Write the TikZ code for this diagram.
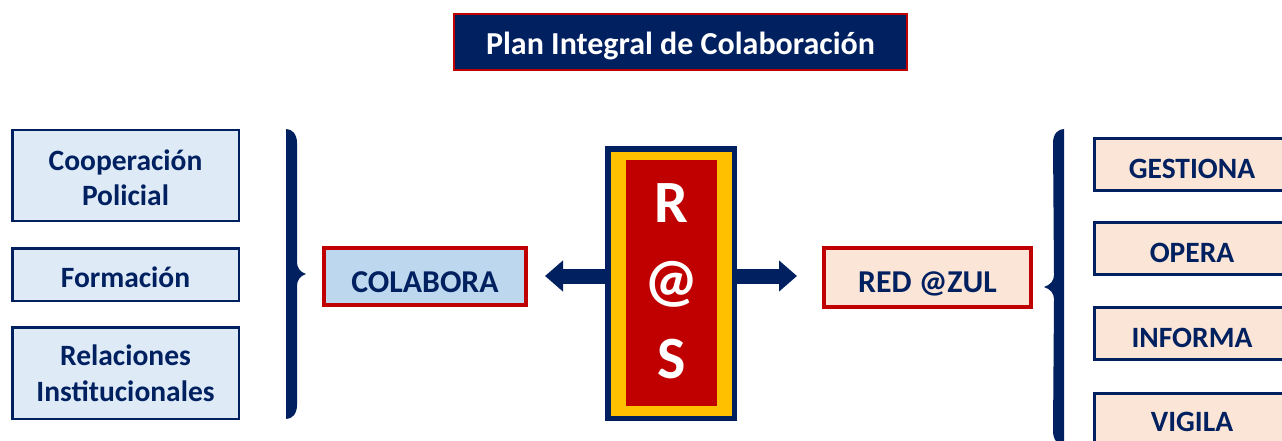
\documentclass[tikz,border=0pt]{standalone}
\usepackage{fontspec}
\setmainfont{Carlito}
\usetikzlibrary{arrows.meta}
\definecolor{cNavy}{HTML}{002060}
\definecolor{cRed}{HTML}{C00000}
\definecolor{cGold}{HTML}{FFC000}
\definecolor{cLBlue}{HTML}{DEEBF7}
\definecolor{cMBlue}{HTML}{BDD7EE}
\definecolor{cPeach}{HTML}{FBE5D6}
\newcommand{\twolines}[3]{\parbox[t]{220pt}{\centering\fontsize{29.5}{#3}\selectfont\bfseries #1\\#2}}
\begin{document}
\begin{tikzpicture}[x=1pt,y=-1pt,
  txt/.style={font=\fontsize{29.5}{35}\selectfont\bfseries, align=center, inner sep=0pt},
  lbox/.style={txt, draw=cNavy, line width=2.5pt, fill=cLBlue, text=cNavy, minimum width=226.5pt},
  rbox/.style={txt, draw=cNavy, line width=3pt, fill=cPeach, text=cNavy, minimum width=196pt, minimum height=52pt, text height=27.6pt, text depth=0pt},
  midbox/.style={txt, font=\fontsize{31.8}{38}\selectfont\bfseries, draw=cRed, line width=4pt, text=cNavy},
  brace/.style={fill=cNavy},
  bigarrow/.style={draw=cNavy, line width=15pt, -{Triangle[length=18pt,width=30pt]}}
]
\useasboundingbox (0,0) rectangle (1282,441);
\clip (0,0) rectangle (1282,441);

% title
\node[txt, font=\fontsize{32}{38}\selectfont\bfseries, draw=cRed, line width=2pt, fill=cNavy, text=white, minimum width=453pt, minimum height=56pt, text height=26pt, text depth=0pt] (title) at (680.5,42) {Plan Integral de Colaboración};

% left boxes
\node[lbox, minimum height=90.5pt, text height=0pt, text depth=9.6pt] (coop) at (125.5,175.5) {\twolines{Cooperación}{Policial}{35}};
\node[lbox, minimum height=52.5pt, text height=25pt, text depth=0pt] (form) at (125.5,274.5) {Formación};
\node[lbox, minimum height=91.5pt, text height=0pt, text depth=14.6pt] (rel) at (125.5,373) {\twolines{Relaciones}{Institucionales}{36}};

% left brace
\path[brace] (286,129) .. controls (292,129) and (297,134) .. (297,143) -- (297,262)
  .. controls (297,268) and (300,272) .. (306,274)
  .. controls (300,276) and (297,280) .. (297,286) -- (297,405)
  .. controls (297,414) and (292,419) .. (286,419) -- cycle;

% middle boxes
\node[midbox, fill=cMBlue, minimum width=202pt, minimum height=57pt, text height=32.4pt, text depth=0pt] (colabora) at (425,276.5) {COLABORA};
\node[midbox, fill=cPeach, minimum width=207pt, minimum height=59pt, text height=30.4pt, text depth=0pt] (redazul) at (927.5,277.5) {RED @ZUL};

% R@S block
\node[draw=cNavy, line width=5.5pt, fill=cGold, minimum width=126.5pt, minimum height=269.5pt, inner sep=0pt] (rs) at (671,283.5) {};
\node[fill=cRed, minimum width=91pt, minimum height=246pt, inner sep=0pt, text=white,
      font=\fontsize{60}{78}\selectfont\bfseries, align=center, text depth=4pt] (rsin) at (671.5,283) {R\\@\\S};

% arrows
\coordinate (lt) at (545,276);
\coordinate (rt) at (797,276);
\draw[bigarrow] (rs.west |- lt) -- (lt);
\draw[bigarrow] (rs.east |- rt) -- (rt);

% right brace
\path[brace] (1064,129) .. controls (1058,129) and (1053,134) .. (1053,143) -- (1054,275)
  .. controls (1054,281) and (1050,285) .. (1044,287)
  .. controls (1050,289) and (1054,293) .. (1054,299) -- (1053,431)
  .. controls (1053,440) and (1058,445) .. (1064,445) -- cycle;

% right boxes
\node[rbox] (gest) at (1192,164.5) {GESTIONA};
\node[rbox] (opera) at (1192,248.5) {OPERA};
\node[rbox] (inform) at (1192,333.5) {INFORMA};
\node[rbox, text height=25.4pt] (vigila) at (1192,419) {VIGILA};
\end{tikzpicture}
\end{document}
